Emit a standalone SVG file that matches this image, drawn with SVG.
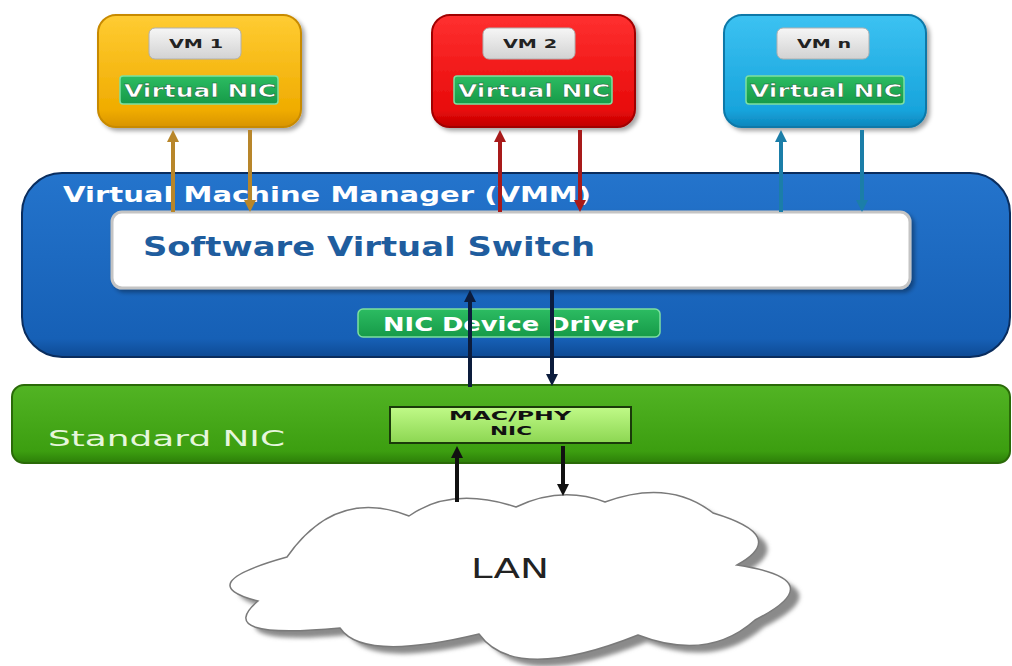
<svg xmlns="http://www.w3.org/2000/svg" width="1012" height="666" viewBox="0 0 1012 666">
<defs>
<style>
.t{font-family:"DejaVu Sans","Liberation Sans",Arial,sans-serif;}
.b{font-weight:bold;}
.vmlabel{font-size:12px;fill:#222;}
.vnic{font-size:18px;fill:#fff;stroke:#0b5a2a;stroke-width:0.4;}
.graybox{fill:url(#gGray);stroke:#b0b0b0;stroke-width:1;}
.nicbox{fill:url(#gNic);stroke:#7ee0a0;stroke-width:1.5;}
.arr{stroke-width:4;fill:none;}
</style>
<linearGradient id="gYel" x1="0" y1="0" x2="0" y2="1"><stop offset="0" stop-color="#ffcc33"/><stop offset="0.85" stop-color="#f0ac00"/><stop offset="1" stop-color="#d89400"/></linearGradient>
<linearGradient id="gRed" x1="0" y1="0" x2="0" y2="1"><stop offset="0" stop-color="#ff3030"/><stop offset="0.85" stop-color="#e80a0a"/><stop offset="1" stop-color="#c00000"/></linearGradient>
<linearGradient id="gBlu" x1="0" y1="0" x2="0" y2="1"><stop offset="0" stop-color="#3cc2f2"/><stop offset="0.85" stop-color="#18a4dc"/><stop offset="1" stop-color="#0c86bc"/></linearGradient>
<linearGradient id="gGray" x1="0" y1="0" x2="0" y2="1"><stop offset="0" stop-color="#f6f6f6"/><stop offset="1" stop-color="#d2d2d2"/></linearGradient>
<linearGradient id="gNic" x1="0" y1="0" x2="0" y2="1"><stop offset="0" stop-color="#2cbc62"/><stop offset="1" stop-color="#169a48"/></linearGradient>
<linearGradient id="gVmm" x1="0" y1="0" x2="0" y2="1"><stop offset="0" stop-color="#2474cc"/><stop offset="0.9" stop-color="#1660b6"/><stop offset="1" stop-color="#0e4a94"/></linearGradient>
<linearGradient id="gStd" x1="0" y1="0" x2="0" y2="1"><stop offset="0" stop-color="#52b424"/><stop offset="0.85" stop-color="#3c9e10"/><stop offset="1" stop-color="#2c7e08"/></linearGradient>
<linearGradient id="gMac" x1="0" y1="0" x2="0" y2="1"><stop offset="0" stop-color="#c0fa88"/><stop offset="1" stop-color="#8cd652"/></linearGradient>
<filter id="sh" x="-10%" y="-10%" width="125%" height="130%"><feDropShadow dx="3" dy="3" stdDeviation="2" flood-color="#000" flood-opacity="0.35"/></filter>
<filter id="blur"><feGaussianBlur stdDeviation="2"/></filter>
<marker id="mY" viewBox="0 0 12 12" refX="3" refY="6" markerWidth="12" markerHeight="12" markerUnits="userSpaceOnUse" orient="auto"><path d="M0,0 L12,6 L0,12 z" fill="#b8862a"/></marker>
<marker id="mR" viewBox="0 0 12 12" refX="3" refY="6" markerWidth="12" markerHeight="12" markerUnits="userSpaceOnUse" orient="auto"><path d="M0,0 L12,6 L0,12 z" fill="#a81a1a"/></marker>
<marker id="mB" viewBox="0 0 12 12" refX="3" refY="6" markerWidth="12" markerHeight="12" markerUnits="userSpaceOnUse" orient="auto"><path d="M0,0 L12,6 L0,12 z" fill="#1b7ea8"/></marker>
<marker id="mN" viewBox="0 0 12 12" refX="3" refY="6" markerWidth="12" markerHeight="12" markerUnits="userSpaceOnUse" orient="auto"><path d="M0,0 L12,6 L0,12 z" fill="#0c1c3c"/></marker>
<marker id="mK" viewBox="0 0 12 12" refX="3" refY="6" markerWidth="12" markerHeight="12" markerUnits="userSpaceOnUse" orient="auto"><path d="M0,0 L12,6 L0,12 z" fill="#111"/></marker>
<path id="cloudShape" d="M287,557 Q336,487 409,516 Q451.5,486 516,507 Q561.5,485.5 605,502 Q669,478.5 713,513 Q790,536 737,565 Q834,580 755,620 Q708,662 638,635 Q515,684 479,634 Q363,662 340,628 Q212,640 258,601 Q190,584 287,557 Z"/>
</defs>
<rect width="1012" height="666" fill="#fff"/>

<g id="vmm">
<rect x="22" y="173" width="988" height="184" rx="40" fill="url(#gVmm)" stroke="#0a2d5e" stroke-width="2"/>
<text class="t b" x="63" y="202" font-size="22" fill="#fff" textLength="528" lengthAdjust="spacingAndGlyphs">Virtual Machine Manager (VMM)</text>
</g>
<g id="switch">
<rect x="112" y="212" width="798" height="76" rx="10" fill="#fff" stroke="#c4c4c4" stroke-width="3" filter="url(#sh)"/>
<text class="t b" x="143" y="256" font-size="27" fill="#1f5d9e" textLength="452" lengthAdjust="spacingAndGlyphs">Software Virtual Switch</text>
</g>
<g id="driver">
<rect x="358" y="309" width="302" height="28" rx="5" class="nicbox"/>
<text class="t b" x="383" y="331" font-size="19" fill="#fff" textLength="255" lengthAdjust="spacingAndGlyphs">NIC Device Driver</text>
</g>
<g id="stdnic">
<rect x="12" y="385" width="998" height="78" rx="12" fill="url(#gStd)" stroke="#2a6a08" stroke-width="2"/>
<text class="t" x="48" y="446" font-size="22" fill="#e6f6dc" textLength="237" lengthAdjust="spacingAndGlyphs">Standard NIC</text>
</g>
<g id="macphy">
<rect x="390" y="407" width="241" height="36" fill="url(#gMac)" stroke="#1a3a0a" stroke-width="2"/>
<text class="t b" x="510" y="420" font-size="13" fill="#111" text-anchor="middle" textLength="122" lengthAdjust="spacingAndGlyphs">MAC/PHY</text>
<text class="t b" x="511" y="435" font-size="13" fill="#111" text-anchor="middle" textLength="42" lengthAdjust="spacingAndGlyphs">NIC</text>
</g>
<g id="vm1">
<rect x="98" y="15" width="203" height="112" rx="18" fill="url(#gYel)" stroke="#c88a00" stroke-width="2" filter="url(#sh)"/>
<rect x="149" y="28" width="92" height="31" rx="6" class="graybox"/>
<text class="t b vmlabel" x="169" y="48" textLength="54" lengthAdjust="spacingAndGlyphs">VM 1</text>
<rect x="120" y="76" width="158" height="28" rx="3" class="nicbox"/>
<text class="t b vnic" x="124" y="97" textLength="152" lengthAdjust="spacingAndGlyphs">Virtual NIC</text>
</g>
<g id="vm2">
<rect x="432" y="15" width="203" height="112" rx="18" fill="url(#gRed)" stroke="#a00000" stroke-width="2" filter="url(#sh)"/>
<rect x="483" y="28" width="92" height="31" rx="6" class="graybox"/>
<text class="t b vmlabel" x="503" y="48" textLength="54" lengthAdjust="spacingAndGlyphs">VM 2</text>
<rect x="454" y="76" width="158" height="28" rx="3" class="nicbox"/>
<text class="t b vnic" x="458" y="97" textLength="152" lengthAdjust="spacingAndGlyphs">Virtual NIC</text>
</g>
<g id="vmn">
<rect x="724" y="15" width="202" height="112" rx="18" fill="url(#gBlu)" stroke="#0a78a8" stroke-width="2" filter="url(#sh)"/>
<rect x="777" y="28" width="92" height="31" rx="6" class="graybox"/>
<text class="t b vmlabel" x="797" y="48" textLength="54" lengthAdjust="spacingAndGlyphs">VM n</text>
<rect x="746" y="76" width="158" height="28" rx="3" class="nicbox"/>
<text class="t b vnic" x="750" y="97" textLength="152" lengthAdjust="spacingAndGlyphs">Virtual NIC</text>
</g>
<g id="lan">
<use href="#cloudShape" transform="translate(9,7)" fill="#8a8a8a" filter="url(#blur)"/>
<use href="#cloudShape" fill="#fff" stroke="#7a7a7a" stroke-width="1.5"/>
<text class="t" x="471" y="578" font-size="26" fill="#222" textLength="78" lengthAdjust="spacingAndGlyphs">LAN</text>
</g>
<g id="connectors">
<line class="arr" x1="173" y1="212" x2="173" y2="139" stroke="#b8862a" marker-end="url(#mY)"/>
<line class="arr" x1="250" y1="130" x2="250" y2="203" stroke="#b8862a" marker-end="url(#mY)"/>
<line class="arr" x1="500" y1="212" x2="500" y2="139" stroke="#a81a1a" marker-end="url(#mR)"/>
<line class="arr" x1="580" y1="130" x2="580" y2="203" stroke="#a81a1a" marker-end="url(#mR)"/>
<line class="arr" x1="781" y1="212" x2="781" y2="139" stroke="#1b7ea8" marker-end="url(#mB)"/>
<line class="arr" x1="862" y1="130" x2="862" y2="203" stroke="#1b7ea8" marker-end="url(#mB)"/>
<line class="arr" x1="470" y1="387" x2="470" y2="299" stroke="#0c1c3c" marker-end="url(#mN)"/>
<line class="arr" x1="552" y1="290" x2="552" y2="377" stroke="#0c1c3c" marker-end="url(#mN)"/>
<line class="arr" x1="457" y1="502" x2="457" y2="455" stroke="#111" marker-end="url(#mK)"/>
<line class="arr" x1="563" y1="446" x2="563" y2="487" stroke="#111" marker-end="url(#mK)"/>
</g>
</svg>
